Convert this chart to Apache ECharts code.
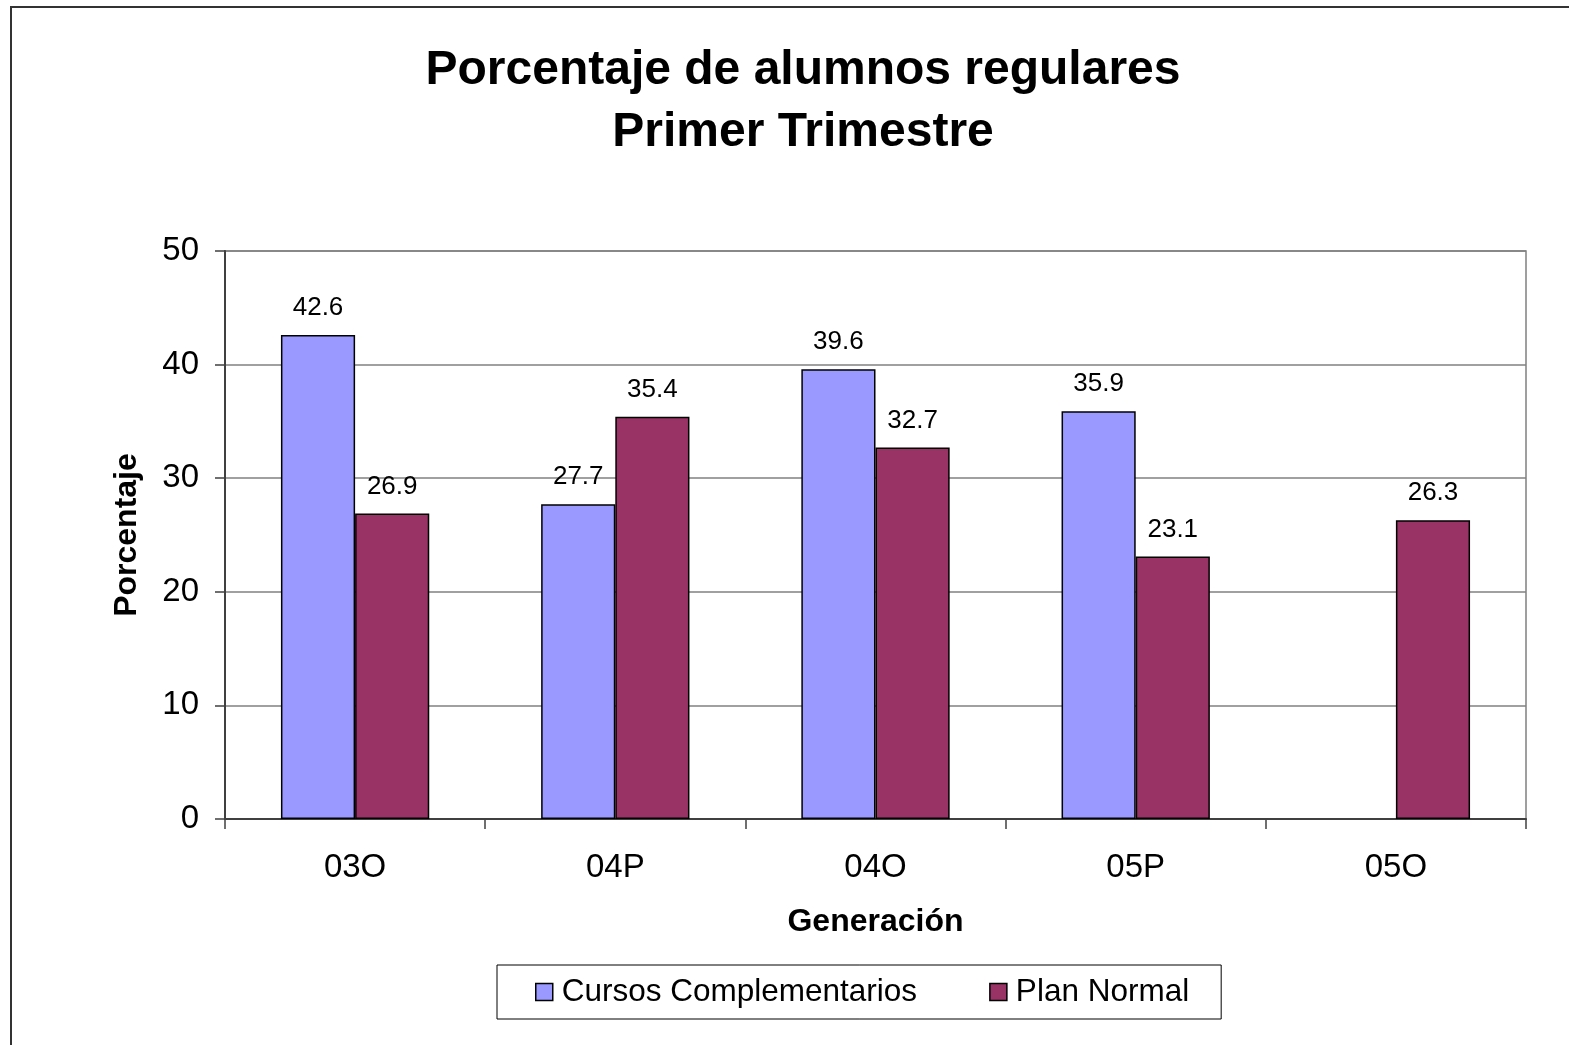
<!DOCTYPE html>
<html>
<head>
<meta charset="utf-8">
<script src="https://cdn.jsdelivr.net/npm/echarts@6/dist/echarts.min.js"></script>
<style>
  html, body { margin: 0; padding: 0; background: #fff; }
  #chart { width: 1569px; height: 1045px; }
</style>
</head>
<body>
<div id="chart"></div>
<script>
// datos
const generaciones = ['03O', '04P', '04O', '05P', '05O']
const cursosComplementarios = [42.6, 27.7, 39.6, 35.9, null]
const planNormal = [26.9, 35.4, 32.7, 23.1, 26.3]
const yTicks = [0, 10, 20, 30, 40, 50]

const font = 'Liberation Sans, Arial, sans-serif'

const labelStyle = {
  show: true,
  position: 'top',
  distance: 14,
  color: '#000',
  fontFamily: font,
  fontSize: 26,
  formatter: p => p.value == null ? '' : p.value.toFixed(1)
}

const myChart = echarts.init(document.getElementById('chart'))
const option = {
  backgroundColor: '#fff',
  animation: false,
  title: {
    text: 'Porcentaje de alumnos regulares\nPrimer Trimestre',
    left: 798,
    top: 35,
    textAlign: 'center',
    textStyle: { fontFamily: font, fontSize: 48, fontWeight: 'bold', color: '#000', lineHeight: 62 }
  },
  graphic: [{
    type: 'rect',
    shape: { x: 11, y: 7, width: 1600, height: 1100 },
    style: { fill: 'none', stroke: '#333', lineWidth: 2 },
    silent: true
  }],
  grid: {
    left: 225, right: 43, top: 251, bottom: 226,
    show: true, borderColor: '#808080', borderWidth: 1.5, backgroundColor: 'transparent'
  },
  legend: {
    left: 497, top: 965,
    padding: [11, 32, 11, 38],
    itemGap: 72,
    itemWidth: 17, itemHeight: 17,
    borderColor: '#000', borderWidth: 1,
    icon: 'rect',
    textStyle: { fontFamily: font, fontSize: 31.5, color: '#000', padding: [0, 0, 0, 4] },
    itemStyle: { borderColor: '#000', borderWidth: 1.5 }
  },
  xAxis: {
    type: 'category',
    data: generaciones,
    name: 'Generación',
    nameLocation: 'middle',
    nameGap: 87,
    nameTextStyle: { fontFamily: font, fontSize: 32, fontWeight: 'bold', color: '#000' },
    axisLine: { lineStyle: { color: '#404040', width: 2 } },
    axisTick: { show: true, length: 10, lineStyle: { color: '#404040', width: 1.5 } },
    axisLabel: { fontFamily: font, fontSize: 33, color: '#000', margin: 32 }
  },
  yAxis: {
    type: 'value',
    min: yTicks[0], max: yTicks[yTicks.length - 1], interval: 10,
    name: 'Porcentaje',
    nameLocation: 'middle',
    nameGap: 82,
    nameTextStyle: { fontFamily: font, fontSize: 32, fontWeight: 'bold', color: '#000' },
    axisLine: { show: true, lineStyle: { color: '#404040', width: 2 } },
    axisTick: { show: true, length: 10, lineStyle: { color: '#404040', width: 1.5 } },
    axisLabel: { fontFamily: font, fontSize: 33, color: '#000', margin: 26 },
    splitLine: { lineStyle: { color: '#808080', width: 1.5 } }
  },
  series: [
    {
      name: 'Cursos Complementarios',
      type: 'bar',
      data: cursosComplementarios,
      barGap: '0%',
      barCategoryGap: '43%',
      itemStyle: { color: '#9999FF', borderColor: '#000', borderWidth: 1.5 },
      label: labelStyle
    },
    {
      name: 'Plan Normal',
      type: 'bar',
      data: planNormal,
      itemStyle: { color: '#993366', borderColor: '#000', borderWidth: 1.5 },
      label: labelStyle
    }
  ]
}
myChart.setOption(option)
</script>
</body>
</html>
